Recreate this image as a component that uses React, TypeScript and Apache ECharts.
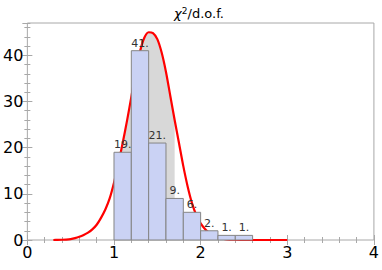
import React, { useEffect, useRef } from "react";
import * as echarts from "echarts";

// Histogram bins (edges) and counts
const binEdges = [1.0, 1.2, 1.4, 1.6, 1.8, 2.0, 2.2, 2.4, 2.6];
const counts = [19, 41, 21, 9, 6, 2, 1, 1];

// Fitted curve
const curveX = [0.3, 0.35, 0.4, 0.45, 0.5, 0.55, 0.6, 0.65, 0.7, 0.75, 0.8, 0.85, 0.9, 0.95, 1.0, 1.05, 1.1, 1.15, 1.2, 1.25, 1.3, 1.35, 1.4, 1.45, 1.5, 1.55, 1.6, 1.65, 1.7, 1.75, 1.8, 1.85, 1.9, 1.95, 2.0, 2.05, 2.1, 2.15, 2.2, 2.25, 2.3, 2.4, 2.5, 2.6, 2.7, 2.8, 2.9, 3.0];
const curveY = [0, 0.02, 0.05, 0.1, 0.2, 0.4, 0.7, 1.1, 1.6, 2.3, 3.3, 4.8, 6.6, 9.0, 12.4, 16.5, 21.0, 25.8, 31.0, 36.3, 40.8, 43.8, 45.0, 44.8, 43.5, 40.6, 36.4, 31.2, 26.0, 21.0, 16.0, 11.6, 8.0, 5.4, 3.6, 2.4, 1.5, 0.9, 0.5, 0.3, 0.15, 0.05, 0, 0, 0, 0, 0, 0];

// Shaded region under the curve
const shadeFrom = 1.0;
const shadeTo = 1.7;

// Axes
const xMin = 0, xMax = 4, xMajor = 1, xMinor = 0.2;
const yMin = 0, yMax = 47, yMajor = 10, yMinor = 2;

const FONT = "DejaVu Sans";
const FRAME = "#a8a8a8";

export default function App() {
  const ref = useRef<HTMLDivElement>(null);
  useEffect(() => {
    document.body.style.margin = "0";
    const chart = echarts.init(ref.current!, null, { renderer: "svg" });
    const curve = curveX.map((x, i) => [x, curveY[i]]);
    const shade = curve.filter((p) => p[0] >= shadeFrom - 1e-9 && p[0] <= shadeTo + 1e-9);
    const tickStyle = { color: FRAME, width: 1 };
    const mkX = (pos: string, interval: number, len: number, labels: boolean) => ({
      type: "value", position: pos, min: xMin, max: xMax, interval,
      axisLine: { show: false },
      axisTick: { show: true, inside: true, length: len, lineStyle: tickStyle },
      axisLabel: labels ? { show: true, fontSize: 16, color: "#000", fontFamily: FONT, margin: 4 } : { show: false },
      splitLine: { show: false },
    });
    const mkY = (pos: string, interval: number, len: number, labels: boolean) => ({
      type: "value", position: pos, min: yMin, max: yMax, interval,
      axisLine: { show: false },
      axisTick: { show: true, inside: true, length: len, lineStyle: tickStyle },
      axisLabel: labels
        ? { show: true, fontSize: 16, color: "#000", fontFamily: FONT, margin: 4, showMaxLabel: false,
            formatter: (v: number) => (v % yMajor === 0 ? String(v) : "") }
        : { show: false },
      splitLine: { show: false },
    });
    chart.setOption({
      animation: false,
      grid: { left: 25, right: 5, top: 23, bottom: 30, show: true, borderColor: FRAME, borderWidth: 1, backgroundColor: "transparent" },
      xAxis: [mkX("bottom", xMajor, 5, true), mkX("bottom", xMinor, 3, false), mkX("top", xMajor, 5, false), mkX("top", xMinor, 3, false)],
      yAxis: [mkY("left", yMajor, 5, true), mkY("left", yMinor, 3, false), mkY("right", yMajor, 5, false), mkY("right", yMinor, 3, false)],
      graphic: [
        {
          type: "text", x: 199, y: 21, z: 10,
          style: {
            text: "{i|χ}{s|2}{n|/d.o.f.}",
            align: "center", verticalAlign: "bottom",
            rich: {
              i: { fontSize: 13, fontStyle: "italic", fontFamily: FONT, fill: "#000", lineHeight: 15 },
              s: { fontSize: 9, fontFamily: FONT, fill: "#000", verticalAlign: "top", lineHeight: 9 },
              n: { fontSize: 13, fontFamily: FONT, fill: "#000", lineHeight: 15 },
            },
          },
        },
      ],
      series: [
        {
          type: "line", data: shade, smooth: 0.3, symbol: "none", z: 1,
          lineStyle: { width: 0 }, areaStyle: { color: "#d8d8d8", opacity: 1 },
          xAxisIndex: 0, yAxisIndex: 0,
        },
        {
          type: "line", data: curve, smooth: 0.3, symbol: "none", z: 2, clip: false,
          lineStyle: { width: 2.2, color: "#ff0000" },
          xAxisIndex: 0, yAxisIndex: 0,
        },
        {
          type: "custom", z: 3, xAxisIndex: 0, yAxisIndex: 0,
          data: counts.map((c, i) => [binEdges[i], binEdges[i + 1], c]),
          encode: { x: [0, 1], y: 2 },
          renderItem: (params: any, api: any) => {
            const x0 = api.value(0), x1 = api.value(1), v = api.value(2);
            const p0 = api.coord([x0, 0]);
            const p1 = api.coord([x1, v]);
            return {
              type: "group",
              children: [
                {
                  type: "rect",
                  shape: { x: p0[0], y: p1[1], width: p1[0] - p0[0], height: p0[1] - p1[1] },
                  style: { fill: "#cad2f4", stroke: "#858585", lineWidth: 1 },
                },
                {
                  type: "text",
                  style: { text: v + ".", x: (p0[0] + p1[0]) / 2, y: p1[1] - 2, align: "center", verticalAlign: "bottom", fontSize: 11, fontFamily: FONT, fill: "#333" },
                },
              ],
            };
          },
        },
      ],
    });
    return () => chart.dispose();
  }, []);
  return <div ref={ref} style={{ position: "absolute", left: 0, top: 0, width: 382, height: 270 }} />;
}
